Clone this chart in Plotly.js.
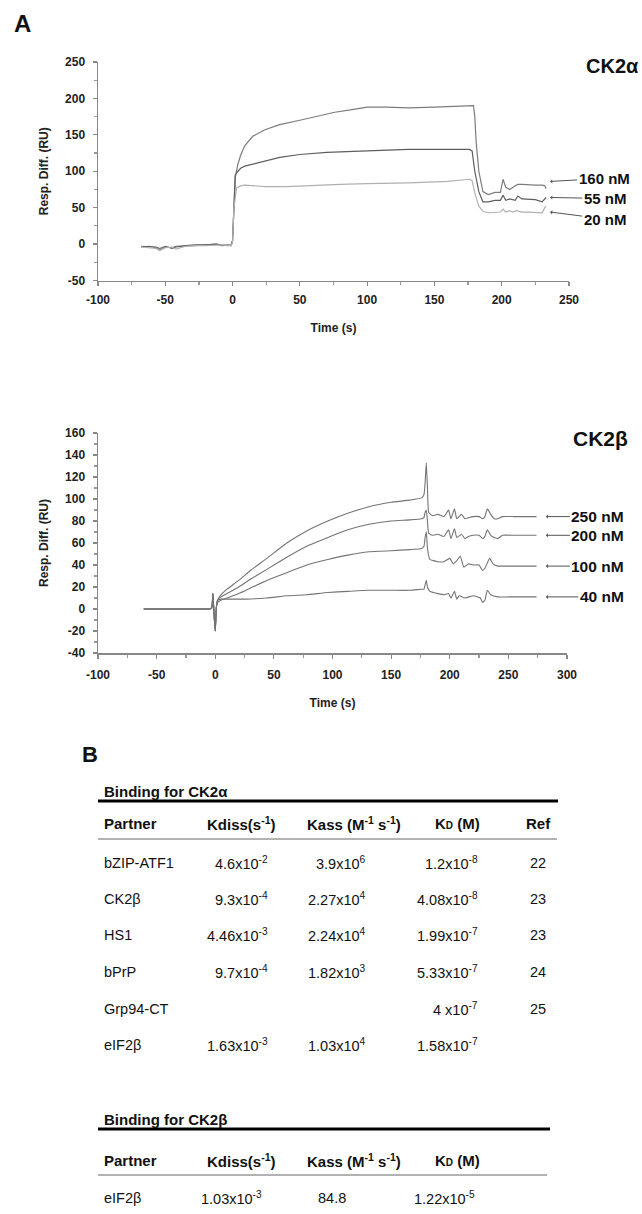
<!DOCTYPE html>
<html>
<head>
<meta charset="utf-8">
<script src="https://cdn.plot.ly/plotly-3.0.1.min.js"></script>
<style>html,body{margin:0;padding:0;background:#fff;}#chart{width:642px;height:1214px;}</style>
</head>
<body>
<div id="chart"></div>
<script>
// ---------- Panel A, CK2alpha sensorgrams ----------
const alphaLabels = ["160 nM", "55 nM", "20 nM"];
const alphaT160 = [-68,-62,-57,-54,-50,-45,-42,-35,-28,-20,-12,-8,-4,-1,0,1,2,4,6,9,15,24,35,50,65,76,90,100,115,131,150,165,176,179,180,181,183,186,190,195,199,201,203,206,210,212,215,220,225,230,232,233];
const alphaV160 = [-4,-3,-5,-8,-4,-5,-3,-2,-2,-1,0,-1,-1,-2,5,60,92,110,122,135,148,157,164,170,176,181,185,188,188,187,188,189,190,190,175,140,100,72,68,71,71,89,78,75,80,82,82,81,81,81,80,76];
const alphaT55 = [-68,-62,-57,-54,-50,-45,-42,-35,-28,-20,-12,-8,-4,-1,0,1,2,4,6,9,15,24,35,50,70,100,131,150,176,178,180,183,186,190,195,199,201,203,206,210,212,215,220,225,230,232,233];
const alphaV55 = [-3,-4,-4,-6,-3,-6,-4,-2,-1,-1,0,-2,-1,-1,5,60,95,100,104,107,110,114,119,123,126,128,130,130,130,128,100,72,58,58,60,60,67,60,62,60,66,62,61,61,58,62,64];
const alphaT20 = [-68,-62,-57,-54,-50,-45,-42,-35,-28,-20,-12,-8,-4,-1,0,1,3,6,9,15,24,40,60,80,100,131,160,176,178,180,183,186,190,195,199,201,203,206,208,211,215,220,225,230,232,233];
const alphaV20 = [-4,-5,-6,-9,-5,-4,-7,-3,-2,-2,-1,-1,-2,-2,3,50,77,80,81,80,79,79,81,82,83,84,86,89,87,70,52,45,43,44,44,48,44,46,44,46,44,44,43,43,50,52];
const alphaArrowY = [86, 64, 44];
const alphaXTicks = [-100, -50, 0, 50, 100, 150, 200, 250];
const alphaXTickText = ["-100", "-50", "0", "50", "100", "150", "200", "250"];
const alphaYTicks = [-50, 0, 50, 100, 150, 200, 250];
const alphaYTickText = ["-50", "0", "50", "100", "150", "200", "250"];

// ---------- Panel A, CK2beta sensorgrams ----------
const betaLabels = ["250 nM", "200 nM", "100 nM", "40 nM"];
const betaBaseT = [-61,-50,-40,-30,-20,-10,-5,-3,-2,-1,0,1];
const betaBaseV = [0,0,0,0,0,0,0,1,14,-5,-20,2];
const betaT250 = [2,5,10,20,30,44,61,78,96,113,131,150,166,176,178,179,180,181,182,185,190,195,199,201,204,206,210,213,216,220,225,228,230,232,235,238,241,245,255,265,274];
const betaV250 = [8,13,18,26,35,46,60,71,80,87,93,97,99,101,104,115,133,110,88,85,86,84,90,82,91,82,86,82,83,84,84,82,84,91,86,82,82,84,84,84,84];
const betaT200 = [2,5,10,20,30,44,61,78,96,113,131,150,166,176,178,179,180,181,182,185,190,195,199,201,204,206,210,213,216,220,225,228,230,232,235,238,241,245,255,265,274];
const betaV200 = [8,11,14,20,27,36,47,57,65,72,77,80,81,82,83,88,90,80,69,67,68,66,72,64,73,65,68,64,66,67,67,64,66,72,67,65,64,67,67,67,67];
const betaT100 = [2,5,10,20,30,44,61,78,96,113,131,150,166,176,178,179,180,181,183,186,190,195,200,203,206,209,212,216,220,225,228,230,234,237,241,245,255,265,274];
const betaV100 = [6,8,10,14,19,26,33,40,45,49,52,53,54,55,57,65,70,55,45,44,43,43,46,41,44,48,38,41,40,40,35,37,46,41,39,39,39,39,39];
const betaT40 = [2,5,10,26,44,61,78,96,113,131,150,166,176,178,179,180,181,183,186,190,195,199,201,204,206,208,213,220,226,228,230,232,235,241,250,260,274];
const betaV40 = [8,9,9,9,10,12,13,15,16,17,17,17,18,18,22,26,20,16,15,14,13,14,10,16,9,12,10,12,10,6,8,17,13,11,11,11,11];
const betaArrowY = [84, 67, 39, 11];
const betaXTicks = [-100, -50, 0, 50, 100, 150, 200, 250, 300];
const betaXTickText = ["-100", "-50", "0", "50", "100", "150", "200", "250", "300"];
const betaYTicks = [-40, -20, 0, 20, 40, 60, 80, 100, 120, 140, 160];
const betaYTickText = ["-40", "-20", "0", "20", "40", "60", "80", "100", "120", "140", "160"];

// ---------- Panel B, tables ----------
const tableAHeader = ["Partner", "Kdiss(s^-1)", "Kass (M^-1 s^-1)", "KD (M)", "Ref"];
const partnersA = ["bZIP-ATF1", "CK2β", "HS1", "bPrP", "Grp94-CT", "eIF2β"];
const kdissA = ["4.6x10^-2", "9.3x10^-4", "4.46x10^-3", "9.7x10^-4", "", "1.63x10^-3"];
const kassA = ["3.9x10^6", "2.27x10^4", "2.24x10^4", "1.82x10^3", "", "1.03x10^4"];
const kdA = ["1.2x10^-8", "4.08x10^-8", "1.99x10^-7", "5.33x10^-7", "4 x10^-7", "1.58x10^-7"];
const refA = ["22", "23", "23", "24", "25", ""];
const partnersB = ["eIF2β"];
const kdissB = ["1.03x10^-3"];
const kassB = ["84.8"];
const kdB = ["1.22x10^-5"];

// ---------- helpers ----------
const W = 642, H = 1214;
const X = p => p / W;
const Y = p => 1 - p / H;
const FONT = "Arial, 'Liberation Sans', sans-serif";
const fmt = s => s.replace(/\^(-?\d+)/g, "<sup>$1</sup>")
                  .replace(/^KD/, "K<span style='font-size:10px'>D</span>");

const traces = [];
const alphaColors = ["#7c7c7c", "#5e5e5e", "#b0b0b0"];
[[alphaT160, alphaV160], [alphaT55, alphaV55], [alphaT20, alphaV20]].forEach((d, i) => {
  traces.push({x: d[0], y: d[1], xaxis: "x", yaxis: "y", type: "scatter", mode: "lines",
    name: alphaLabels[i], line: {color: alphaColors[i], width: 1.2}, showlegend: false, hoverinfo: "skip"});
});
[[betaT250, betaV250], [betaT200, betaV200], [betaT100, betaV100], [betaT40, betaV40]].forEach((d, i) => {
  traces.push({x: betaBaseT.concat(d[0]), y: betaBaseV.concat(d[1]), xaxis: "x2", yaxis: "y2", type: "scatter", mode: "lines",
    name: betaLabels[i], line: {color: "#747474", width: 1.1, shape: "spline", smoothing: 0.4}, showlegend: false, hoverinfo: "skip"});
});

const tickFont = {family: FONT, size: 12, color: "#222", weight: "bold"};
const titleFont = {family: FONT, size: 12, color: "#222", weight: "bold"};
function axisX(domain, range, anchor, tv, tt, lblOff, titleOff) {
  return {domain: domain, range: range, anchor: anchor, tickmode: "array", tickvals: tv, ticktext: tt,
    showgrid: false, zeroline: false,
    showline: true, linecolor: "#888", linewidth: 1.5, ticks: "outside", ticklen: 4, tickcolor: "#888", tickwidth: 1.2,
    minor: {dtick: 25, tick0: 0, ticks: "outside", ticklen: 3, tickcolor: "#999"},
    tickfont: tickFont, ticklabelstandoff: lblOff, title: {text: "Time (s)", font: titleFont, standoff: titleOff}};
}
function axisY(domain, range, anchor, tv, tt, mdt) {
  return {domain: domain, range: range, anchor: anchor, tickmode: "array", tickvals: tv, ticktext: tt,
    showgrid: false, zeroline: false,
    showline: true, linecolor: "#888", linewidth: 1.5, ticks: "outside", ticklen: 4, tickcolor: "#888", tickwidth: 1.2,
    minor: {dtick: mdt, tick0: 0, ticks: "outside", ticklen: 3, tickcolor: "#999"},
    tickfont: tickFont, ticklabelstandoff: 5, title: {text: "Resp. Diff. (RU)", font: titleFont, standoff: 14}};
}

const annotations = [];
const shapes = [];
const txt = (x, y, text, size, bold, xanchor, extra) => annotations.push(Object.assign({
  xref: "paper", yref: "paper", x: X(x), y: Y(y), text: text, showarrow: false, xanchor: xanchor || "left", yanchor: "middle",
  font: {family: FONT, size: size, color: "#111", weight: bold ? "bold" : "normal"}}, extra || {}));

// panel letters and plot titles
txt(12, 24, "A", 24, true);
txt(80, 754, "B", 22, true);
txt(641, 66, "CK2α", 20, true, "right");
txt(571, 438, "CK2β", 21, true);

// concentration labels with arrows
const alphaAx = [54, 55, 55], alphaAy = [-3, 1, 7];
alphaLabels.forEach((lab, i) => annotations.push({xref: "x", yref: "y", x: 236, y: alphaArrowY[i], text: lab,
  showarrow: true, arrowhead: 1, arrowsize: 0.7, arrowwidth: 1, arrowcolor: "#555", ax: alphaAx[i], ay: alphaAy[i],
  xanchor: "center", font: {family: FONT, size: 15, color: "#111", weight: "bold"}}));
const betaAx = [52, 52, 52, 56];
betaLabels.forEach((lab, i) => annotations.push({xref: "x2", yref: "y2", x: 282, y: betaArrowY[i], text: lab,
  showarrow: true, arrowhead: 1, arrowsize: 0.7, arrowwidth: 1, arrowcolor: "#555", ax: betaAx[i], ay: 0,
  xanchor: "center", font: {family: FONT, size: 15.5, color: "#111", weight: "bold"}}));

// tables
const line = (x0, x1, y, w, c) => shapes.push({type: "line", xref: "paper", yref: "paper",
  x0: X(x0), x1: X(x1), y0: Y(y), y1: Y(y), line: {color: c, width: w}});
// table A
txt(102, 791, "Binding for CK2α", 15, true);
line(98, 558, 801, 3, "#000");
const hdrX = [102, 241, 354, 457, 538];
const hdrAnchor = ["left", "center", "center", "center", "center"];
tableAHeader.forEach((h, j) => txt(hdrX[j], 823, fmt(h), 15, true, hdrAnchor[j]));
line(98, 557, 839, 1, "#666");
const rowYA = [863, 899, 935, 972, 1009, 1045];
partnersA.forEach((p, i) => {
  txt(102, rowYA[i], p, 14.5, false);
  if (kdissA[i]) txt(270, rowYA[i], fmt(kdissA[i]), 14.5, false, "right");
  if (kassA[i]) txt(368, rowYA[i], fmt(kassA[i]), 14.5, false, "right");
  if (kdA[i]) txt(480, rowYA[i], fmt(kdA[i]), 14.5, false, "right");
  if (refA[i]) txt(528, rowYA[i], refA[i], 14.5, false);
});
// table B
txt(102, 1119, "Binding for CK2β", 15, true);
line(98, 550, 1129, 3, "#000");
tableAHeader.slice(0, 4).forEach((h, j) => txt(hdrX[j], 1160, fmt(h), 15, true, hdrAnchor[j]));
line(98, 547, 1175, 1, "#666");
partnersB.forEach((p, i) => {
  const yy = 1198 + i * 36;
  txt(102, yy, p, 14.5, false);
  txt(264, yy, fmt(kdissB[i]), 14.5, false, "right");
  txt(348, yy, fmt(kassB[i]), 14.5, false, "right");
  txt(477, yy, fmt(kdB[i]), 14.5, false, "right");
});

const layout = {
  width: W, height: H, margin: {l: 0, r: 0, t: 0, b: 0}, paper_bgcolor: "#fff", plot_bgcolor: "#fff",
  showlegend: false,
  xaxis: axisX([X(98), X(569)], [-100, 250], "y", alphaXTicks, alphaXTickText, 4, 17),
  yaxis: axisY([Y(280.5), Y(62)], [-50, 250], "x", alphaYTicks, alphaYTickText, 25),
  xaxis2: axisX([X(98), X(567)], [-100, 300], "y2", betaXTicks, betaXTickText, 6, 17),
  yaxis2: axisY([Y(653), Y(433)], [-40, 160], "x2", betaYTicks, betaYTickText, 10),
  annotations: annotations, shapes: shapes
};
Plotly.newPlot("chart", traces, layout, {staticPlot: true, displayModeBar: false});
</script>
</body>
</html>
